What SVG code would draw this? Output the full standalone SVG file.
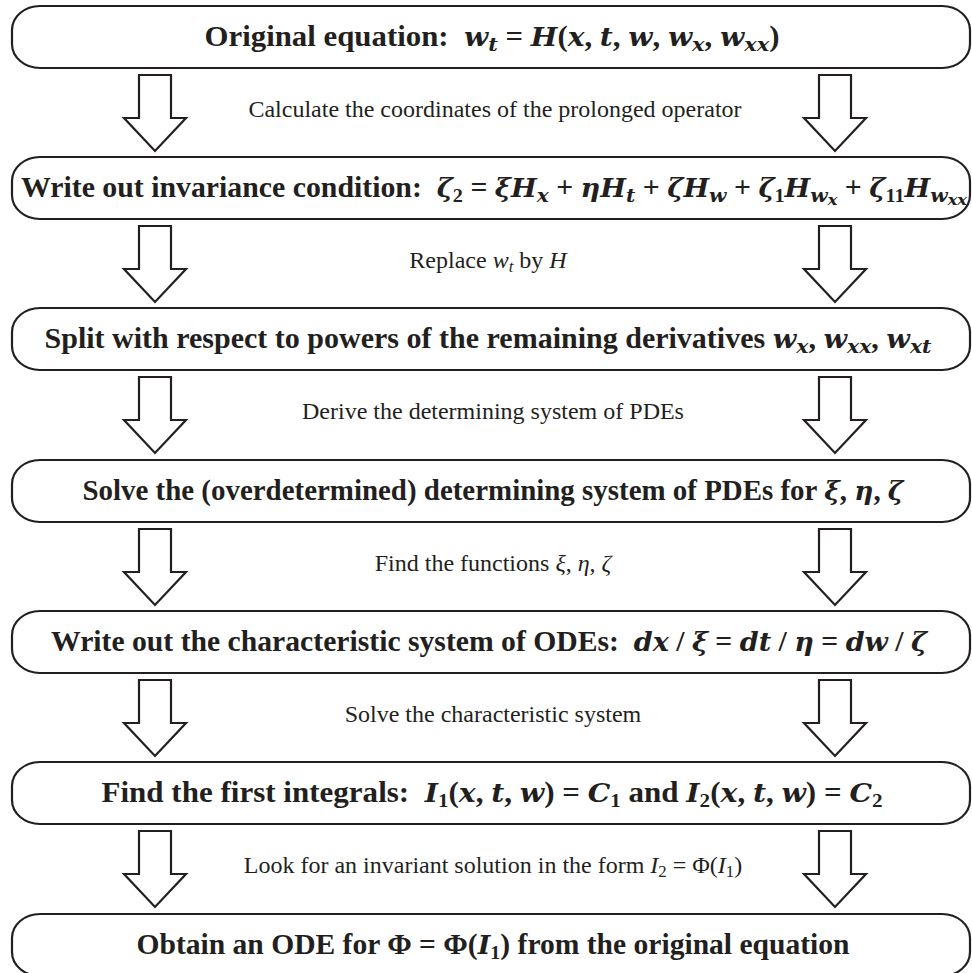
<svg xmlns="http://www.w3.org/2000/svg" width="972" height="973" viewBox="0 0 972 973">
<style>
.box{fill:#fff;stroke:#231f20;stroke-width:2.2}
.arr{fill:#fff;stroke:#231f20;stroke-width:2.2;stroke-linejoin:miter}
.t{font-family:"Liberation Serif","Times New Roman",serif;font-weight:bold;font-size:28.5px;fill:#231f20;text-anchor:middle}
.l{font-family:"Liberation Serif","Times New Roman",serif;font-size:24px;fill:#231f20;text-anchor:middle}
.m{font-family:"DejaVu Serif",serif;font-style:italic;font-size:26px}
.li{font-style:italic}
.s{font-size:68%;baseline-shift:-5px}
.ls{font-size:70%;baseline-shift:-4px}
</style>
<rect width="972" height="973" fill="#fff"/>
<defs>
<path id="a" class="arr" d="M-16,0 H16 V43 H31 L0,76 L-31,43 H-16 Z"/>
</defs>
<g id="connectors">
<use href="#a" x="155" y="75"/><use href="#a" x="835" y="75"/>
<use href="#a" x="155" y="226"/><use href="#a" x="835" y="226"/>
<use href="#a" x="155" y="377"/><use href="#a" x="835" y="377"/>
<use href="#a" x="155" y="529"/><use href="#a" x="835" y="529"/>
<use href="#a" x="155" y="680"/><use href="#a" x="835" y="680"/>
<use href="#a" x="155" y="831"/><use href="#a" x="835" y="831"/>
<text class="l" x="495" y="117">Calculate the coordinates of the prolonged operator</text>
<text class="l" x="488" y="268">Replace <tspan class="li">w</tspan><tspan class="ls li">t</tspan> by <tspan class="li">H</tspan></text>
<text class="l" x="493" y="419">Derive the determining system of PDEs</text>
<text class="l" x="493" y="571">Find the functions <tspan class="li">ξ</tspan>, <tspan class="li">η</tspan>, <tspan class="li">ζ</tspan></text>
<text class="l" x="493" y="722">Solve the characteristic system</text>
<text class="l" x="493" y="873">Look for an invariant solution in the form <tspan class="li">I</tspan><tspan class="ls">2</tspan> = Φ(<tspan class="li">I</tspan><tspan class="ls">1</tspan>)</text>
</g>
<g id="n1">
<rect class="box" x="12" y="6" width="958" height="62" rx="28" ry="24"/>
<text class="t" x="492" y="46" textLength="575" lengthAdjust="spacingAndGlyphs">Original equation:&#160; <tspan class="m">w</tspan><tspan class="s m">t</tspan> = <tspan class="m">H</tspan>(<tspan class="m">x</tspan>, <tspan class="m">t</tspan>, <tspan class="m">w</tspan>, <tspan class="m">w</tspan><tspan class="s m">x</tspan>, <tspan class="m">w</tspan><tspan class="s m">xx</tspan>)</text>
</g>
<g id="n2">
<rect class="box" x="12" y="157" width="958" height="62" rx="28" ry="24"/>
<text class="t" x="494" y="197" textLength="946" lengthAdjust="spacingAndGlyphs">Write out invariance condition:&#160; <tspan class="m">ζ</tspan><tspan class="s">2</tspan> = <tspan class="m">ξH</tspan><tspan class="s m">x</tspan> + <tspan class="m">ηH</tspan><tspan class="s m">t</tspan> + <tspan class="m">ζH</tspan><tspan class="s m">w</tspan> + <tspan class="m">ζ</tspan><tspan class="s">1</tspan><tspan class="m">H</tspan><tspan class="s m">w<tspan style="font-size:80%;baseline-shift:-3px">x</tspan></tspan> + <tspan class="m">ζ</tspan><tspan class="s">11</tspan><tspan class="m">H</tspan><tspan class="s m">w<tspan style="font-size:80%;baseline-shift:-3px">xx</tspan></tspan></text>
</g>
<g id="n3">
<rect class="box" x="12" y="308" width="958" height="62" rx="28" ry="24"/>
<text class="t" x="488" y="348" textLength="887" lengthAdjust="spacingAndGlyphs">Split with respect to powers of the remaining derivatives <tspan class="m">w</tspan><tspan class="s m">x</tspan>, <tspan class="m">w</tspan><tspan class="s m">xx</tspan>, <tspan class="m">w</tspan><tspan class="s m">xt</tspan></text>
</g>
<g id="n4">
<rect class="box" x="12" y="460" width="958" height="62" rx="28" ry="24"/>
<text class="t" x="493" y="500" textLength="821" lengthAdjust="spacingAndGlyphs">Solve the (overdetermined) determining system of PDEs for <tspan class="m">ξ</tspan>, <tspan class="m">η</tspan>, <tspan class="m">ζ</tspan></text>
</g>
<g id="n5">
<rect class="box" x="12" y="611" width="958" height="62" rx="28" ry="24"/>
<text class="t" x="489" y="651" textLength="876" lengthAdjust="spacingAndGlyphs">Write out the characteristic system of ODEs:&#160; <tspan class="m">dx</tspan> / <tspan class="m">ξ</tspan> = <tspan class="m">dt</tspan> / <tspan class="m">η</tspan> = <tspan class="m">dw</tspan> / <tspan class="m">ζ</tspan></text>
</g>
<g id="n6">
<rect class="box" x="12" y="762" width="958" height="62" rx="28" ry="24"/>
<text class="t" x="492" y="802" textLength="781" lengthAdjust="spacingAndGlyphs">Find the first integrals:&#160; <tspan class="m">I</tspan><tspan class="s">1</tspan>(<tspan class="m">x</tspan>, <tspan class="m">t</tspan>, <tspan class="m">w</tspan>) = <tspan class="m">C</tspan><tspan class="s">1</tspan> and <tspan class="m">I</tspan><tspan class="s">2</tspan>(<tspan class="m">x</tspan>, <tspan class="m">t</tspan>, <tspan class="m">w</tspan>) = <tspan class="m">C</tspan><tspan class="s">2</tspan></text>
</g>
<g id="n7">
<rect class="box" x="12" y="914" width="958" height="62" rx="28" ry="24"/>
<text class="t" x="493" y="954" textLength="713" lengthAdjust="spacingAndGlyphs">Obtain an ODE for Φ = Φ(<tspan class="m">I</tspan><tspan class="s">1</tspan>) from the original equation</text>
</g>
</svg>
